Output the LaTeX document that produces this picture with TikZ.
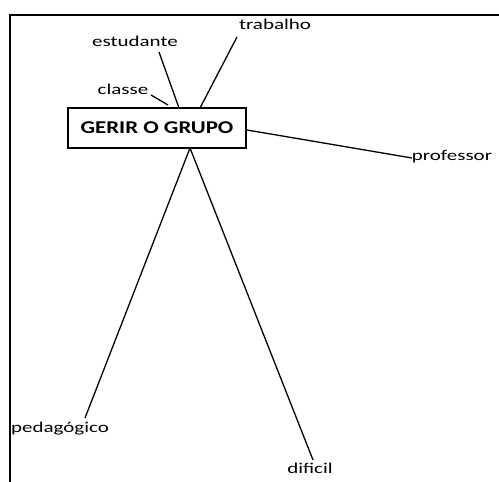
\documentclass[tikz,border=0pt]{standalone}
\usepackage{fontspec}
\setmainfont{Carlito}
\newfontfamily\lblfont[FakeStretch=1.4]{Carlito}
\newfontfamily\ttlfont[FakeStretch=1.27]{Carlito}
\begin{document}
\begin{tikzpicture}[x=1bp,y=-1bp,
  lbl/.style={inner sep=0pt,anchor=base,font=\lblfont\fontsize{15bp}{18bp}\selectfont},
  conn/.style={line width=1.3bp},
  frame/.style={line width=2bp}]
\useasboundingbox (0,0) rectangle (499,482);
\draw[frame] (10,482) -- (10,15) -- (499,15);
\node[draw,line width=1.4bp,minimum width=178bp,minimum height=40bp,inner sep=0pt,
  font=\ttlfont\bfseries\fontsize{18bp}{20bp}\selectfont] (main) at (157,128) {GERIR O GRUPO};
\node[lbl] (estudante) at (135,47) {estudante};
\node[lbl] (trabalho) at (275,30) {trabalho};
\node[lbl] (classe) at (123,95) {classe};
\node[lbl] (professor) at (452,161) {professor};
\node[lbl] (pedagogico) at (60,432) {pedagógico};
\node[lbl] (dificil) at (310,473) {dificil};
\coordinate (e1) at (159,52);
\coordinate (e2) at (179,108);
\coordinate (t1) at (237,37);
\coordinate (t2) at (200,108);
\coordinate (c1) at (151,95);
\coordinate (c2) at (168,105);
\coordinate (p1) at (247,130);
\coordinate (p2) at (412,158);
\coordinate (g1) at (85,418);
\coordinate (b) at (190,148);
\coordinate (d1) at (313,460);
\draw[conn] (e1) -- (e2);
\draw[conn] (t1) -- (t2);
\draw[conn] (c1) -- (c2);
\draw[conn] (p1) -- (p2);
\draw[conn] (g1) -- (b);
\draw[conn] (d1) -- (b);
\end{tikzpicture}
\end{document}
